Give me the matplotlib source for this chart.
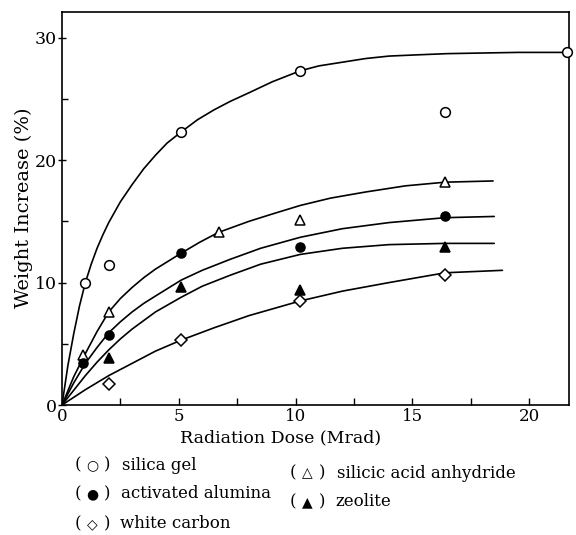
import matplotlib
matplotlib.use("Agg")
import matplotlib.pyplot as plt
from matplotlib.ticker import MultipleLocator

# measured points (dose in Mrad, weight increase in %)
silica_x = [1.0, 2.0, 5.1, 10.2, 16.4, 21.6]
silica_y = [10.0, 11.4, 22.3, 27.3, 23.9, 28.8]
silicic_x = [0.9, 2.0, 6.7, 10.2, 16.4]
silicic_y = [4.1, 7.6, 14.1, 15.1, 18.2]
alumina_x = [0.9, 2.0, 5.1, 10.2, 16.4]
alumina_y = [3.4, 5.7, 12.4, 12.9, 15.4]
zeolite_x = [2.0, 5.1, 10.2, 16.4]
zeolite_y = [3.8, 9.6, 9.4, 12.9]
white_x = [2.0, 5.1, 10.2, 16.4]
white_y = [1.7, 5.3, 8.5, 10.6]

# hand drawn curves
silica_cx = [0, 0.25, 0.5, 0.75, 1.0, 1.25, 1.5, 1.75, 2.0, 2.5, 3.0, 3.5, 4.0, 4.5, 5.1,
             5.8, 6.5, 7.2, 8.0, 9.0, 10.2, 11.0, 12.0, 13.0, 14.0, 15.2, 16.5, 18.0, 19.5, 21.6]
silica_cy = [0, 3.2, 5.8, 8.1, 10.0, 11.5, 12.8, 13.9, 14.9, 16.6, 18.0, 19.3, 20.4, 21.4, 22.3,
             23.3, 24.1, 24.8, 25.5, 26.4, 27.3, 27.7, 28.0, 28.3, 28.5, 28.6, 28.7, 28.75, 28.8, 28.8]
silicic_cx = [0, 0.5, 1.0, 1.5, 2.0, 2.5, 3.0, 3.5, 4.0, 5.1, 5.9, 6.7, 8.0, 9.0, 10.2, 11.5, 13.0, 14.7, 16.4, 18.45]
silicic_cy = [0, 2.3, 4.2, 6.0, 7.6, 8.7, 9.6, 10.4, 11.1, 12.4, 13.3, 14.1, 15.0, 15.6, 16.3, 16.9, 17.4, 17.9, 18.2, 18.3]
alumina_cx = [0, 0.5, 1.0, 1.5, 2.0, 2.5, 3.0, 3.5, 4.0, 5.1, 6.0, 7.2, 8.5, 10.2, 12.0, 14.0, 16.4, 18.5]
alumina_cy = [0, 1.8, 3.4, 4.7, 5.9, 6.8, 7.6, 8.3, 8.9, 10.2, 11.0, 11.9, 12.8, 13.7, 14.4, 14.9, 15.3, 15.4]
zeolite_cx = [0, 0.5, 1.0, 1.5, 2.0, 2.5, 3.0, 3.5, 4.0, 5.1, 6.0, 7.2, 8.5, 10.2, 12.0, 14.0, 16.4, 18.5]
zeolite_cy = [0, 1.2, 2.4, 3.5, 4.5, 5.4, 6.2, 6.9, 7.6, 8.8, 9.7, 10.6, 11.5, 12.3, 12.8, 13.1, 13.2, 13.2]
white_cx = [0, 1.0, 2.0, 3.0, 4.0, 5.1, 6.5, 8.0, 10.2, 12.0, 14.0, 16.4, 18.85]
white_cy = [0, 1.25, 2.4, 3.4, 4.4, 5.3, 6.3, 7.3, 8.5, 9.3, 10.0, 10.8, 11.0]

W, H = 576, 535
serif = ["DejaVu Serif", "DejaVu Sans"]
plt.rcParams["font.family"] = serif

fig = plt.figure(figsize=(W / 100, H / 100), dpi=100)
ax = fig.add_axes([62 / W, 130 / H, 507 / W, 393 / H])

lw = 1.2
for cx, cy in [(silica_cx, silica_cy), (silicic_cx, silicic_cy), (alumina_cx, alumina_cy),
               (zeolite_cx, zeolite_cy), (white_cx, white_cy)]:
    ax.plot(cx, cy, color="black", lw=lw, solid_capstyle="round", solid_joinstyle="round")

mk = dict(linestyle="none", markeredgecolor="black", markeredgewidth=1.1, clip_on=False, zorder=3)
ax.plot(silica_x, silica_y, marker="o", markersize=7, markerfacecolor="white", **mk)
ax.plot(silicic_x, silicic_y, marker="^", markersize=7.5, markerfacecolor="white", **mk)
ax.plot(alumina_x, alumina_y, marker="o", markersize=6.5, markerfacecolor="black", **mk)
ax.plot(zeolite_x, zeolite_y, marker="^", markersize=7.5, markerfacecolor="black", **mk)
ax.plot(white_x, white_y, marker="D", markersize=6.5, markerfacecolor="white", **mk)

ax.set_xlim(0, 21.7)
ax.set_ylim(0, 32.1)
for s in ax.spines.values():
    s.set_linewidth(1.2)

ax.xaxis.set_major_locator(MultipleLocator(5))
ax.xaxis.set_minor_locator(MultipleLocator(2.5))
ax.yaxis.set_major_locator(MultipleLocator(10))
ax.yaxis.set_minor_locator(MultipleLocator(5))
ax.tick_params(axis="x", which="both", direction="in", length=5, width=1.0, labelsize=12, pad=2)
ax.tick_params(axis="y", which="major", direction="inout", length=6, width=1.0, labelsize=12.5, pad=1)
ax.tick_params(axis="y", which="minor", direction="in", length=4, width=1.0)

def ftext(x, y, s, **kw):
    fig.text(x / W, 1 - y / H, s, **kw)

ftext(24, 208, "Weight Increase (%)", rotation=90, ha="center", va="center", fontsize=14)
ftext(281, 438, "Radiation Dose (Mrad)", ha="center", va="center", fontsize=12.5)

# key printed under the figure
key = [
    (75, 122, 465, "○", "silica gel"),
    (290, 337, 473, "△", "silicic acid anhydride"),
    (75, 121, 494, "●", "activated alumina"),
    (290, 335, 502, "▲", "zeolite"),
    (75, 120, 524, "◇", "white carbon"),
]
for xs, xl, y, sym, label in key:
    ftext(xs, y, "(", ha="left", va="center", fontsize=12)
    ftext(xs + 17, y, sym, ha="center", va="center", fontsize=10)
    ftext(xs + 29, y, ")", ha="left", va="center", fontsize=12)
    ftext(xl, y, label, ha="left", va="center", fontsize=12)

fig.savefig("out.png", dpi=100)
